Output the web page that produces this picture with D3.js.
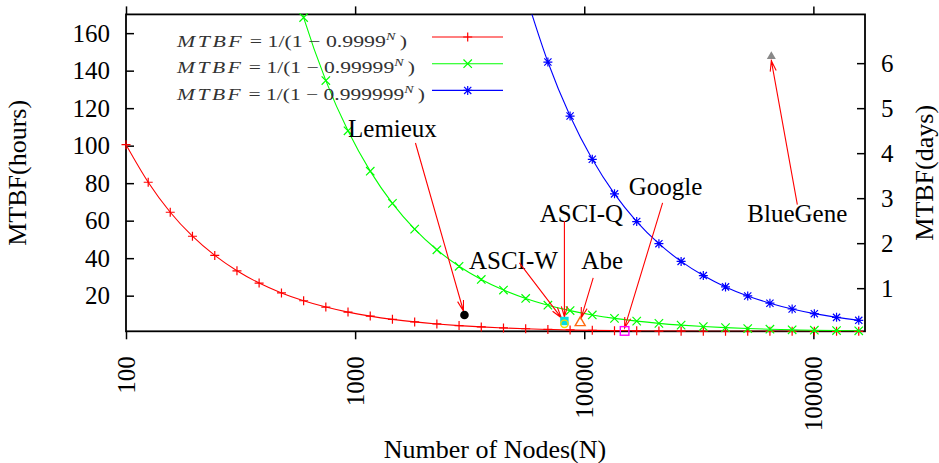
<!DOCTYPE html>
<html>
<head>
<meta charset="utf-8">
<style>
  body { margin: 0; background: #fff; }
  svg text { font-family: "Liberation Serif", "Times New Roman", serif; fill: #000; }
  .axis path.domain { display: none; }
  .axis line { stroke: #000; stroke-width: 1.5; }
</style>
</head>
<body>
<svg width="939" height="463"></svg>
<script src="https://d3js.org/d3.v7.min.js"></script>
<script>
// node counts at the plotted markers (ratio 1.25 between markers)
var nodes = [100, 125, 156, 195, 244, 305, 381, 477, 596, 745, 931, 1164, 1455, 1819, 2274, 2842, 3553,
  4441, 5551, 6939, 8674, 10842, 13553, 16941, 21176, 26470, 33087, 41359, 51699, 64623, 80779, 100974, 126218, 157772];

// MTBF in hours for each reliability (null = above the top of the plot)
var mtbf9999 = [100.5, 80.5, 64.5, 51.7, 41.46, 33.27, 26.72, 21.47, 17.28, 13.93, 11.24, 9.10, 7.38, 6.01, 4.92, 4.04, 3.34,
  2.79, 2.35, 2.00, 1.72, 1.51, 1.35, 1.23, 1.14, 1.08, 1.04, 1.02, 1.01, 1.00, 1.00, 1.00, 1.00, 1.00];
var mtbf99999 = [null, null, null, null, null, null, null, 210.2, 168.3, 134.7, 107.9, 86.4, 69.22, 55.48, 44.48, 35.69, 28.65,
  23.02, 18.52, 14.92, 12.04, 9.73, 7.89, 6.42, 5.24, 4.30, 3.55, 2.95, 2.48, 2.10, 1.81, 1.57, 1.40, 1.26];
var mtbf999999 = [null, null, null, null, null, null, null, null, null, null, null, null, null, null, null, null, null,
  null, 180.6, 144.6, 115.8, 92.73, 74.29, 59.53, 47.73, 38.28, 30.73, 24.68, 19.85, 15.98, 12.89, 10.41, 8.43, 6.85];
var reliabilities = ["0.9999", "0.99999", "0.999999"];

// real systems
var systems = ["Lemieux", "ASCI-Q", "ASCI-W", "Abe", "Google", "BlueGene"];
var systemNodes = [3000, 8192, 8192, 9600, 15000, 65536];
var systemMtbf = [9.7, 6.5, 5.0, 6.0, 1.2, 148];

var xTicks = [100, 1000, 10000, 100000];
var hourTicks = [20, 40, 60, 80, 100, 120, 140, 160];
var dayTicks = [1, 2, 3, 4, 5, 6];

// styles / layout
var seriesColors = ["#ff0000", "#00ff00", "#0000ff"];
var seriesMarkers = ["plus", "cross", "star"];
var systemStyle = [
  {shape: "circle", fill: "#000", stroke: "none", r: 4.3, label: [-72, -187], from: [-49, -172], to: [-1, -4]},
  {shape: "square", fill: "#00e0e0", stroke: "none", r: 4.2, label: [17, -108], from: [0, -100], to: [0, -4]},
  {shape: "circle", fill: "none", stroke: "#f0e000", r: 3.7, label: [-51, -64], from: [-45, -61], to: [-3, -6]},
  {shape: "triangle", fill: "none", stroke: "#ff6a10", r: 5, label: [22, -62], from: [13, -44], to: [1, -4]},
  {shape: "square", fill: "none", stroke: "#ff00ff", r: 4.3, label: [41, -145], from: [38, -128], to: [0, -3]},
  {shape: "triangle", fill: "#888", stroke: "none", r: 4.5, label: [26, 158], from: [26, 149], to: [0, 5]}
];

var svg = d3.select("svg"),
    plotLeft = 126, plotRight = 865, plotTop = 14.4, plotBottom = 331.3;

var x = d3.scaleLog().domain([100, 168000]).range([plotLeft, plotRight]);
var y = d3.scaleLinear().domain([1, 170]).range([plotBottom, plotTop]);
var yDays = d3.scaleLinear().domain([1 / 24, 170 / 24]).range([plotBottom, plotTop]);

svg.append("defs").append("clipPath").attr("id", "plot")
  .append("rect").attr("x", plotLeft).attr("y", plotTop)
  .attr("width", plotRight - plotLeft).attr("height", plotBottom - plotTop);

function markerPath(type, cx, cy) {
  var s = 4.5, p = "";
  if (type == "plus" || type == "star")
    p += "M" + (cx - s) + "," + cy + "H" + (cx + s) + "M" + cx + "," + (cy - s) + "V" + (cy + s);
  if (type == "cross" || type == "star") {
    var c = type == "star" ? 3.6 : 4.2;
    p += "M" + (cx - c) + "," + (cy - c) + "L" + (cx + c) + "," + (cy + c) +
         "M" + (cx - c) + "," + (cy + c) + "L" + (cx + c) + "," + (cy - c);
  }
  return p;
}

// axes
svg.append("g").attr("class", "axis")
  .attr("transform", "translate(" + plotLeft + ",0)")
  .call(d3.axisLeft(y).tickValues(hourTicks).tickSize(-8).tickPadding(16))
  .selectAll("text").style("font-size", "25px");

svg.append("g").attr("class", "axis")
  .attr("transform", "translate(" + plotRight + ",0)")
  .call(d3.axisRight(yDays).tickValues(dayTicks).tickFormat(d3.format("d")).tickSize(-8).tickPadding(16))
  .selectAll("text").style("font-size", "25px");

var xAxis = svg.append("g").attr("class", "axis")
  .attr("transform", "translate(0," + plotBottom + ")")
  .call(d3.axisBottom(x).tickValues(xTicks).tickFormat(d3.format("d")).tickSize(8));
xAxis.selectAll("text")
  .attr("transform", "rotate(-90)")
  .attr("x", -25).attr("y", 0).attr("dy", "0.33em")
  .style("text-anchor", "end").style("font-size", "25px");

svg.append("g").attr("class", "axis")
  .attr("transform", "translate(0," + plotTop + ")")
  .call(d3.axisTop(x).tickValues(xTicks).tickFormat("").tickSize(8));

svg.append("rect")
  .attr("x", plotLeft).attr("y", plotTop)
  .attr("width", plotRight - plotLeft).attr("height", plotBottom - plotTop)
  .attr("fill", "none").attr("stroke", "#000").attr("stroke-width", 1.8);

// axis titles
var midY = (plotTop + plotBottom) / 2;
svg.append("text").attr("transform", "translate(26," + midY + ") rotate(-90)")
  .attr("text-anchor", "middle").style("font-size", "26px").text("MTBF(hours)");
svg.append("text").attr("transform", "translate(933," + midY + ") rotate(-90)")
  .attr("text-anchor", "middle").style("font-size", "26px").text("MTBF(days)");
svg.append("text").attr("x", 495).attr("y", 458)
  .attr("text-anchor", "middle").style("font-size", "26px").text("Number of Nodes(N)");

// curves
var curves = [mtbf9999, mtbf99999, mtbf999999];
var plot = svg.append("g");
var lineGen = d3.line()
  .defined(function(d) { return d.v != null; })
  .x(function(d) { return x(d.n); })
  .y(function(d) { return y(d.v); })
  .curve(d3.curveMonotoneX);

curves.forEach(function(vals, i) {
  var pts = nodes.map(function(n, k) { return {n: n, v: vals[k]}; });
  plot.append("path")
    .attr("d", lineGen(pts))
    .attr("clip-path", "url(#plot)")
    .attr("fill", "none").attr("stroke", seriesColors[i]).attr("stroke-width", 1.1);
  var shown = pts.filter(function(d) { return d.v != null && d.v <= 170 && d.v >= 1; });
  plot.append("path")
    .attr("d", shown.map(function(d) { return markerPath(seriesMarkers[i], x(d.n), y(d.v)); }).join(""))
    .attr("fill", "none").attr("stroke", seriesColors[i]).attr("stroke-width", 1.2);
});

// legend
var legend = svg.append("g");
var legendLen = [230, 238, 248];
reliabilities.forEach(function(r, i) {
  var ly = 37 + i * 26.7;
  var t = legend.append("text").attr("x", 177).attr("y", ly + 9.5)
    .attr("textLength", legendLen[i]).attr("lengthAdjust", "spacingAndGlyphs")
    .style("font-size", "17px").style("fill", "#333");
  t.append("tspan").style("font-style", "italic").style("letter-spacing", "2px").text("MTBF");
  t.append("tspan").text(" = 1/(1 \u2212 " + r);
  t.append("tspan").attr("dy", -7).style("font-size", "11px").style("font-style", "italic").text("N");
  t.append("tspan").attr("dy", 7).text("\u2009)");
  legend.append("line").attr("x1", 432).attr("x2", 503).attr("y1", ly).attr("y2", ly)
    .attr("stroke", seriesColors[i]).attr("stroke-width", 1.1);
  legend.append("path").attr("d", markerPath(seriesMarkers[i], 467.7, ly))
    .attr("fill", "none").attr("stroke", seriesColors[i]).attr("stroke-width", 1.2);
});

// annotations
var notes = svg.append("g");
function arrow(x1, y1, x2, y2) {
  var a = Math.atan2(y2 - y1, x2 - x1), h = 11, w = 0.28;
  var p = "M" + x1 + "," + y1 + "L" + x2 + "," + y2 +
    "M" + (x2 - h * Math.cos(a - w)) + "," + (y2 - h * Math.sin(a - w)) + "L" + x2 + "," + y2 +
    "L" + (x2 - h * Math.cos(a + w)) + "," + (y2 - h * Math.sin(a + w));
  notes.append("path").attr("d", p).attr("fill", "none").attr("stroke", "#ff0000").attr("stroke-width", 1.1);
}

systems.forEach(function(name, i) {
  var st = systemStyle[i], px = x(systemNodes[i]), py = y(systemMtbf[i]);
  notes.append("text").attr("x", px + st.label[0]).attr("y", py + st.label[1]).attr("dy", "0.35em")
    .attr("text-anchor", "middle").style("font-size", "25px").text(name);
  arrow(px + st.from[0], py + st.from[1], px + st.to[0], py + st.to[1]);
});

systems.forEach(function(name, i) {
  var st = systemStyle[i], px = x(systemNodes[i]), py = y(systemMtbf[i]), m;
  if (st.shape == "circle") m = notes.append("circle").attr("cx", px).attr("cy", py).attr("r", st.r);
  else if (st.shape == "square") m = notes.append("rect").attr("x", px - st.r).attr("y", py - st.r)
    .attr("width", 2 * st.r).attr("height", 2 * st.r);
  else m = notes.append("path").attr("d", "M" + px + "," + (py - st.r) + "L" + (px + st.r) + "," + (py + st.r * 0.75) +
    "L" + (px - st.r) + "," + (py + st.r * 0.75) + "Z");
  m.attr("fill", st.fill).attr("stroke", st.stroke).attr("stroke-width", 1.4);
});
</script>
</body>
</html>
